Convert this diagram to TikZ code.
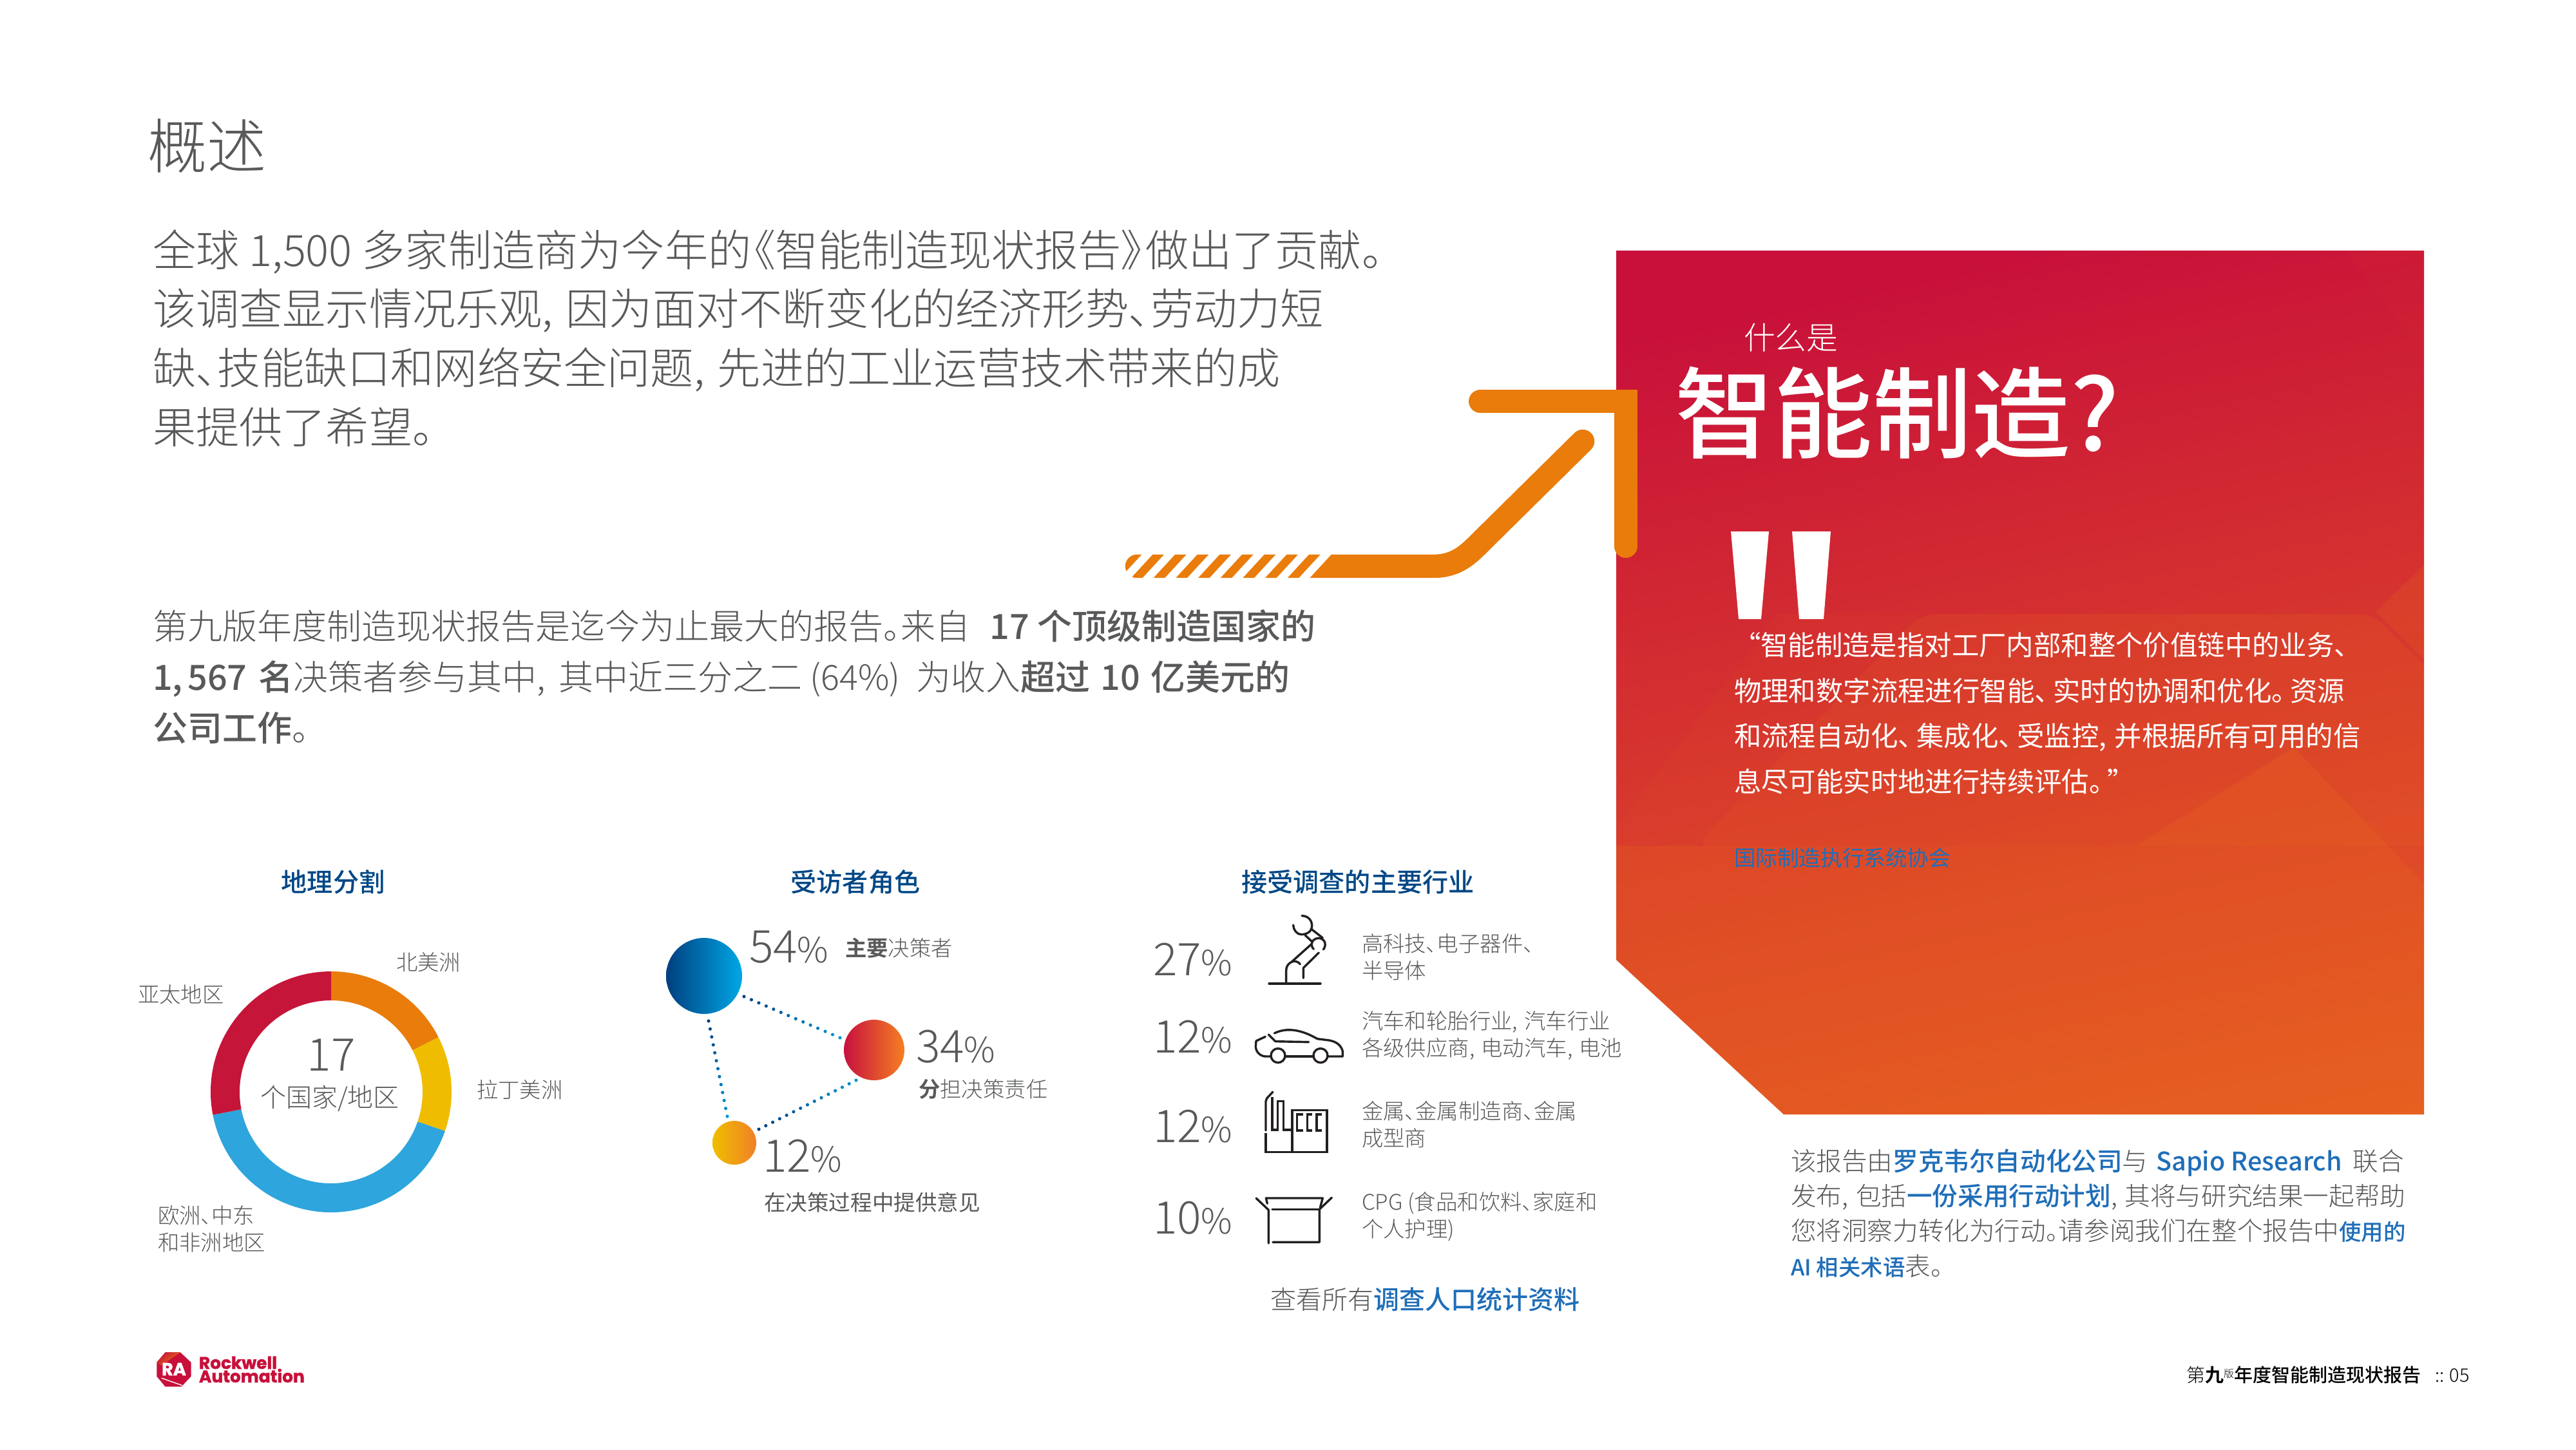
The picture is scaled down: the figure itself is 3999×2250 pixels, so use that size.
\documentclass[tikz,border=0pt]{standalone}
\usepackage{fontspec}
\usetikzlibrary{calc}
\newfontfamily\fl[RawFeature=+palt]{Noto Sans CJK SC Light}
\newfontfamily\fr[RawFeature=+palt]{Noto Sans CJK SC}
\newfontfamily\fm[RawFeature=+palt]{Noto Sans CJK SC Medium}
\newfontfamily\fb[RawFeature=+palt]{Noto Sans CJK SC Bold}
\newfontfamily\flogo[FakeBold=1.6]{Poppins Bold}
\newcommand\fsz[1]{\fontsize{#1}{#1}\selectfont}
\newcommand\cm{,\kern.3em}
\newcommand\pk{\kern.18em}
\definecolor{tgray}{HTML}{58595B}
\definecolor{navy}{HTML}{004785}
\definecolor{linkb}{HTML}{1F6EB8}
\definecolor{arrowo}{HTML}{E97C0B}
\definecolor{icon}{HTML}{231F20}
\definecolor{ared}{HTML}{C8103A}
\definecolor{pmid}{HTML}{D02237}
\definecolor{panelo}{HTML}{E8641F}
\definecolor{dotA}{HTML}{003F7F}
\definecolor{dotB}{HTML}{0095D5}
\definecolor{dyel}{HTML}{F0BC00}
\definecolor{dblu}{HTML}{2EA5DC}
\definecolor{dred}{HTML}{C51538}
\definecolor{oBr}{HTML}{00A7E5}
\definecolor{oRl}{HTML}{C8103E}
\definecolor{oRr}{HTML}{F57F22}
\definecolor{oYl}{HTML}{EFBE00}
\definecolor{oYr}{HTML}{F08026}
\tikzset{
  txt/.style={anchor=base west,inner sep=0pt,outer sep=0pt,text=tgray},
  ctxt/.style={txt,anchor=base},
  wtxt/.style={txt,text=white},
  head/.style={ctxt,text=navy,font=\fm\fsz{10.05}},
  icn/.style={draw=icon,line width=.85pt,line cap=round,line join=round},
  orb/.style={circle,inner sep=0pt,outer sep=0pt,minimum size=#1},
  lbl/.style={txt,font=\fl\fsz{8.35}},
  qline/.style={wtxt,font=\fr\fsz{10.6}},
  rline/.style={txt,font=\fl\fsz{9.9}},
  bline/.style={txt,font=\fl\fsz{16.8}},
  mline/.style={txt,font=\fl\fsz{13.5}},
}
\newcommand\pct[1]{{\fl\fsz{17.5}#1}{\fl\fsz{13.5}\%}}
\newcommand\lk[1]{{\fm\color{linkb}#1}}
\newcommand\seg[3]{\fill[#1] ($(donut)+(#2:46.75pt)$) arc[start angle=#2,end angle=#3,radius=46.75pt] -- ($(donut)+(#3:35.5pt)$) arc[start angle=#3,end angle=#2,radius=35.5pt] -- cycle;}
\newcommand\dotline[3]{\foreach \i in {0,...,#3}{\pgfmathsetmacro\tt{\i/#3}\pgfmathsetmacro\mm{100*\tt}\fill[dotB!\mm!dotA] ($(#1)!\tt!(#2)$) circle[radius=.65pt];}}
\begin{document}
\begin{tikzpicture}[x=.25pt,y=-.25pt]
\useasboundingbox (0,0) rectangle (3999,2250);

% ---- red panel
\begin{scope}
\clip (2509,389) -- (3763,389) -- (3763,1730) -- (2769,1730) -- (2509,1490) -- cycle;
\shade[shading=axis,top color=ared,middle color=pmid,bottom color=panelo,shading angle=12] (2400,389) rectangle (3850,1950);
\fill[panelo,opacity=.3] (2509,1313) -- (3316,1313) -- (3561,1160) -- (3780,1390) -- (3780,1740) -- (2509,1740) -- cycle;
\fill[panelo,opacity=.2,rounded corners=6pt] (2982,953) -- (3684,953) -- (3790,1060) -- (3790,1313) -- (2631,1313) -- cycle;
\fill[panelo,opacity=.22] (3770,870) -- (3688,950) -- (3770,1030) -- cycle;
\fill[panelo,opacity=.04] (3640,389) -- (3770,389) -- (3770,560) -- cycle;
\fill[panelo,opacity=.07] (2509,1285) -- (2760,953) -- (2982,953) -- (2631,1313) -- (2509,1313) -- cycle;
\end{scope}

% ---- arrow
\coordinate (barS) at (1765,879);
\coordinate (barE) at (2225,879);
\coordinate (tipA) at (2457,685);
\draw[arrowo,line width=9.1pt,line cap=round] (barS) -- (barE) .. controls (2262,879) and (2280,860) .. (2300,840) -- (tipA);
\foreach \k in {0,...,8}{
  \fill[white] (1773.3+34.67*\k,860) -- (1790+34.67*\k,860) -- (1755+34.67*\k,898) -- (1738.3+34.67*\k,898) -- cycle;
}
\coordinate (cornL) at (2298,623);
\coordinate (cornC) at (2523.5,623);
\coordinate (cornB) at (2523.5,848);
\draw[arrowo,line width=9pt,line cap=round,line join=miter] (cornL) -- (cornC) -- (cornB);

% ---- main text
\node[txt,font=\fl\fsz{23}] (title) at (229,261) {概述};
\node[bline] (b1) at (237,413) {全球 1,500 多家制造商为今年的\kern.05em《智能制造现状报告》\kern.05em做出了贡献。};
\node[bline] (b2) at (237,504) {该调查显示情况乐观\cm 因为面对不断变化的经济形势、劳动力短};
\node[bline] (b3) at (237,596) {缺、技能缺口和网络安全问题\cm 先进的工业运营技术带来的成};
\node[bline] (b4) at (237,688) {果提供了希望。};
\node[mline] (m1) at (237,992) {第九版年度制造现状报告是迄今为止最大的报告。来自\kern.35em{ }{\fm 17 个顶级制造国家的}};
\node[mline] (m2) at (237,1071) {{\fm 1,\kern.14em567\kern.1em{ }名}决策者参与其中,\kern.38em其中近三分之二 (64\%)\kern.25em{ }为收入{\fm 超过\kern.07em{ }10\kern.07em{ }亿美元的}};
\node[mline] (m3) at (237,1150) {{\fm 公司工作}。};

% ---- panel text
\node[wtxt,font=\fl\fsz{12.2}] (q0) at (2707,542) {什么是};
\node[wtxt,font=\fm\fsz{38.4}] (q1) at (2600,699) {智能制造?};
\fill[white] (2687,825) -- (2746,825) -- (2734,961) -- (2699,961) -- cycle;
\fill[white] (2782,825) -- (2842,825) -- (2831,961) -- (2793,961) -- cycle;
\node[qline] (q2) at (2712,1017) {“智能制造是指对工厂内部和整个价值链中的业务、};
\node[qline] (q3) at (2692,1088) {物理和数字流程进行智能、\pk 实时的协调和优化。\pk 资源};
\node[qline] (q4) at (2692,1158) {和流程自动化、\pk 集成化、\pk 受监控\cm 并根据所有可用的信};
\node[qline] (q5) at (2692,1229) {息尽可能实时地进行持续评估。\pk ”};
\node[txt,text=linkb,font=\fr\fsz{8.4}] (src) at (2692,1344) {国际制造执行系统协会};

% ---- right paragraph
\node[rline] (r1) at (2780,1817) {该报告由\lk{罗克韦尔自动化公司}与\kern.1em{ }\lk{Sapio Research}\kern.2em{ }联合};
\node[rline] (r2) at (2780,1871) {发布\cm 包括\lk{一份采用行动计划}\cm 其将与研究结果一起帮助};
\node[rline] (r3) at (2780,1925) {您将洞察力转化为行动。请参阅我们在整个报告中{\fsz{8.6}\lk{使用的}}};
\node[rline] (r4) at (2780,1980) {{\fsz{8.6}\lk{AI 相关术语}}表。};

% ---- donut
\node[head] (h1) at (517,1384) {地理分割};
\coordinate (donut) at (514,1695);
\seg{arrowo}{90}{27}
\seg{dyel}{27}{-19}
\seg{dblu}{-19}{-169}
\seg{dred}{191}{90}
\node[ctxt,font=\fl\fsz{17.5}] (d17) at (514,1662) {17};
\node[ctxt,font=\fl\fsz{10}] (dc) at (512,1718) {个国家/地区};
\node[lbl] (l1) at (615,1506) {北美洲};
\node[lbl] (l2) at (214,1556) {亚太地区};
\node[lbl] (l3) at (740,1704) {拉丁美洲};
\node[lbl] (l4a) at (245,1899) {欧洲、中东};
\node[lbl] (l4b) at (245,1941) {和非洲地区};

% ---- roles
\node[head] (h2) at (1328,1384) {受访者角色};
\node[orb=29.5pt,left color=dotA,right color=oBr] (oB) at (1093,1515) {};
\node[orb=23.5pt,left color=oRl,right color=oRr] (oR) at (1357,1630) {};
\node[orb=17pt,left color=oYl,right color=oYr] (oY) at (1140,1774) {};
\coordinate (bra) at (1155,1547); \coordinate (brb) at (1304,1611);
\coordinate (bya) at (1100,1585); \coordinate (byb) at (1129,1733);
\coordinate (yra) at (1178,1753); \coordinate (yrb) at (1329,1677);
\dotline{bra}{brb}{13}
\dotline{bya}{byb}{12}
\dotline{yra}{yrb}{14}
\node[txt] (p1) at (1163,1494) {\pct{54}};
\node[txt,font=\fl\fsz{8.35}] (p1t) at (1312,1484) {{\fb 主要}决策者};
\node[txt] (p2) at (1422,1649) {\pct{34}};
\node[txt,font=\fl\fsz{8.35}] (p2t) at (1426,1703) {{\fb 分}担决策责任};
\node[txt] (p3) at (1184,1819) {\pct{12}};
\node[txt,font=\fr\fsz{8.4}] (p3t) at (1186,1879) {在决策过程中提供意见};

% ---- industries
\node[head] (h3) at (2108,1384) {接受调查的主要行业};
\node[txt] (i1) at (1790,1514) {\pct{27}};
\node[txt] (i2) at (1790,1634) {\pct{12}};
\node[txt] (i3) at (1790,1773) {\pct{12}};
\node[txt] (i4) at (1790,1915) {\pct{10}};
\node[lbl] (t1a) at (2114,1477) {高科技、电子器件、};
\node[lbl] (t1b) at (2114,1519) {半导体};
\node[lbl] (t2a) at (2114,1597) {汽车和轮胎行业\cm 汽车行业};
\node[lbl] (t2b) at (2114,1639) {各级供应商\cm 电动汽车\cm 电池};
\node[lbl] (t3a) at (2114,1737) {金属、金属制造商、金属};
\node[lbl] (t3b) at (2114,1779) {成型商};
\node[lbl] (t4a) at (2114,1878) {CPG (食品和饮料、家庭和};
\node[lbl] (t4b) at (2114,1920) {个人护理)};
\node[txt,font=\fl\fsz{10}] (see) at (1972,2032) {查看所有\lk{调查人口统计资料}};

% robot
\begin{scope}[shift={(1940,1410)},x=.0833pt,y=-.0833pt]
\draw[icn] (90,351) -- (330,351);
\draw[icn] (243,35) .. controls (275,35) and (292,60) .. (290,85) .. controls (288,110) and (265,122) .. (240,122) .. controls (220,122) and (203,100) .. (203,78);
\draw[icn] (285,95) -- (340,138);
\draw[icn] (258,125) -- (290,155);
\draw[icn] (295,150) .. controls (310,135) and (335,135) .. (347,152) .. controls (355,165) and (352,182) .. (343,192);
\draw[icn] (295,150) .. controls (285,165) and (288,182) .. (298,190);
\draw[icn] (290,165) -- (195,250) .. controls (180,258) and (170,270) .. (170,290) -- (170,345);
\draw[icn] (195,250) .. controls (210,243) and (225,248) .. (235,260);
\draw[icn] (322,207) -- (250,278) -- (250,325);
\end{scope}
% car
\begin{scope}[shift={(1930,1580)},x=.0833pt,y=-.0833pt]
\draw[icn] (162,176) circle[radius=2.75pt];
\draw[icn] (360,176) circle[radius=2.75pt];
\draw[icn] (197,180) -- (325,180);
\draw[icn] (397,180) -- (463,180) -- (463,155) .. controls (455,125) and (430,110) .. (400,105) -- (345,98) .. controls (300,72) and (220,35) .. (145,72);
\draw[icn] (103,88) -- (60,108) -- (58,135) .. controls (60,165) and (85,180) .. (105,180) -- (128,180);
\draw[icn] (118,78) -- (150,110) -- (305,113);
\end{scope}
% factory
\begin{scope}[shift={(1950,1680)},x=.0833pt,y=-.0833pt]
\draw[icn] (78,45) -- (50,75) -- (45,90) -- (45,225);
\draw[icn,line cap=butt,line join=miter] (45,238) -- (45,325) -- (330,325) -- (330,130) -- (168,130) -- (168,325);
\draw[icn,line cap=butt,line join=miter] (75,70) -- (75,222) -- (100,222) -- (100,88) -- (128,88) -- (128,222) -- (168,222);
\draw[icn,line cap=butt,line join=miter] (218,150) -- (190,150) -- (190,225) -- (218,225);
\draw[icn,line cap=butt,line join=miter] (260,150) -- (238,150) -- (238,225) -- (260,225);
\draw[icn,line cap=butt,line join=miter] (305,150) -- (282,150) -- (282,225) -- (305,225);
\end{scope}
% box
\begin{scope}[shift={(1940,1840)},x=.0833pt,y=-.0833pt]
\draw[icn] (30,60) -- (88,115) -- (88,270);
\draw[icn] (105,112) -- (325,112);
\draw[icn] (108,265) -- (325,265) -- (325,112) -- (382,58);
\draw[icn] (82,85) -- (76,60) -- (340,60) -- (328,105);
\end{scope}

% ---- logo
\begin{scope}[shift={(200,2080)},x=.0833pt,y=-.0833pt]
\fill[ared] (170,58) -- (240,58) -- (290,105) -- (290,170) -- (245,218) -- (170,218) -- (130,170) -- (130,105) -- cycle;
\shade[left color=ared,right color=arrowo,shading angle=40] (130,105) -- (170,58) -- (240,58) -- (150,120) -- cycle;
\draw[white,line width=.35pt] (152,178) -- (248,212);
\end{scope}
\node[ctxt,text=white,font=\flogo\fsz{6.8}] (ra) at (270,2135) {RA};
\node[txt,text=ared,font=\flogo\fsz{6.6}] (lg1) at (309,2125) {Rockwell};
\node[txt,text=ared,font=\flogo\fsz{6.6}] (lg2) at (309,2146) {Automation};

% ---- footer
\node[txt,text=black,font=\fm\fsz{7.25}] (ft) at (3394,2145) {{\fl 第}{\fb 九}{\fl\fsz{4}\raisebox{1.6pt}{版}}年度智能制造现状报告};
\node[txt,text=black,font=\fl\fsz{7.2}] (pg) at (3780,2145) {:: 05};
\end{tikzpicture}
\end{document}
